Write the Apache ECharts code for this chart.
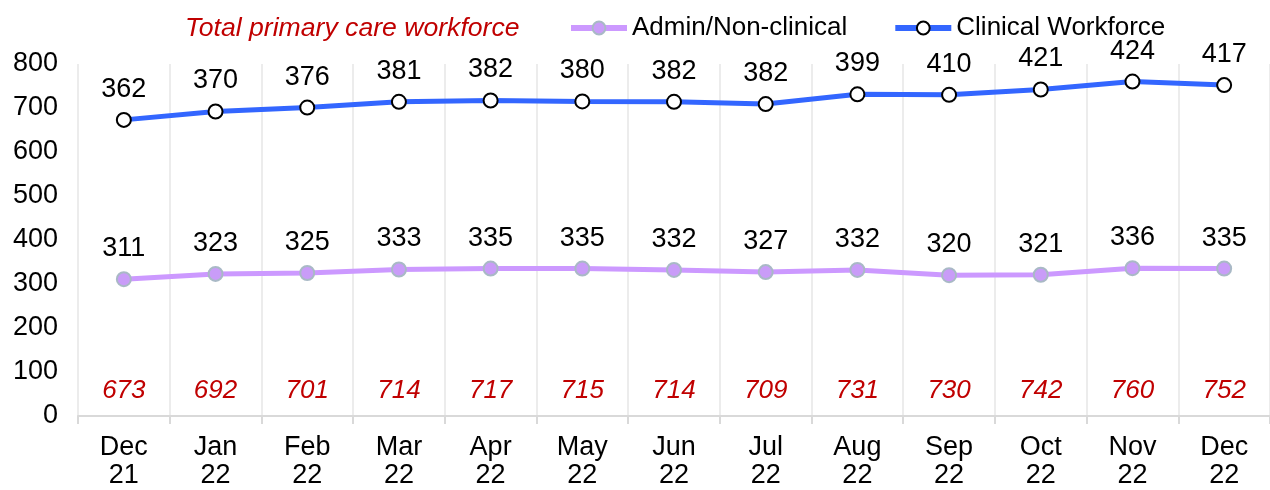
<!DOCTYPE html>
<html>
<head>
<meta charset="utf-8">
<script src="https://cdn.jsdelivr.net/npm/echarts@6/dist/echarts.min.js"></script>
<style>
html,body{margin:0;padding:0;background:#fff;}
#chart{width:1270px;height:490px;}
</style>
</head>
<body>
<div id="chart"></div>
<script>
const categories = ['Dec\n21','Jan\n22','Feb\n22','Mar\n22','Apr\n22','May\n22','Jun\n22','Jul\n22','Aug\n22','Sep\n22','Oct\n22','Nov\n22','Dec\n22'];
const adminValues = [311,323,325,333,335,335,332,327,332,320,321,336,335];
const clinicalValues = [362,370,376,381,382,380,382,382,399,410,421,424,417];
const totalValues = [673,692,701,714,717,715,714,709,731,730,742,760,752];
const yTicks = [0,100,200,300,400,500,600,700,800];

const FONT = '"Liberation Sans", Arial, sans-serif';
const FS = 27;
const chart = echarts.init(document.getElementById('chart'));
chart.setOption({
  animation: false,
  textStyle: { fontFamily: FONT },
  title: {
    text: 'Total primary care workforce',
    left: 180, top: 10,
    textStyle: { color: '#C00000', fontStyle: 'italic', fontWeight: 'normal', fontSize: 26.6, fontFamily: FONT }
  },
  legend: {
    data: ['Admin/Non-clinical', 'Clinical Workforce'],
    left: 563, top: 10,
    itemWidth: 56, itemHeight: 16, itemGap: 45,
    lineStyle: { width: 6 },
    textStyle: { color: '#000', fontSize: 26, fontFamily: FONT }
  },
  grid: { left: 78, right: 0, top: 64, bottom: 72, containLabel: false },
  xAxis: {
    type: 'category',
    data: categories,
    axisLine: { lineStyle: { color: '#D9D9D9', width: 2 } },
    axisTick: { show: true, length: 8, lineStyle: { color: '#D9D9D9', width: 2 } },
    splitLine: { show: true, lineStyle: { color: '#ECECEC', width: 2 } },
    axisLabel: { color: '#000', fontSize: FS, lineHeight: 28, margin: 18, fontFamily: FONT }
  },
  yAxis: {
    type: 'value',
    min: yTicks[0], max: yTicks[yTicks.length - 1], interval: 100,
    axisLine: { show: false },
    axisTick: { show: false },
    splitLine: { show: false },
    axisLabel: { color: '#000', fontSize: FS, margin: 20, fontFamily: FONT }
  },
  series: [
    {
      name: 'Admin/Non-clinical',
      type: 'line',
      data: adminValues,
      symbol: 'circle', symbolSize: 14,
      lineStyle: { color: '#CC99FF', width: 5 },
      itemStyle: { color: '#C99CF8', borderColor: '#A9B9C6', borderWidth: 2 },
      label: { show: true, position: 'top', distance: 9, color: '#000', fontSize: FS, fontFamily: FONT },
      z: 3
    },
    {
      name: 'Clinical Workforce',
      type: 'line',
      data: totalValues,
      symbol: 'circle', symbolSize: 14,
      lineStyle: { color: '#3366FF', width: 5 },
      itemStyle: { color: '#FFFFFF', borderColor: '#000000', borderWidth: 2 },
      label: {
        show: true, position: 'top', distance: 9, color: '#000', fontSize: FS, fontFamily: FONT,
        formatter: p => String(clinicalValues[p.dataIndex])
      },
      z: 4
    },
    {
      name: 'Total',
      type: 'line',
      data: totalValues.map(() => 0),
      symbol: 'circle', symbolSize: 1,
      lineStyle: { width: 0, color: 'rgba(0,0,0,0)' },
      itemStyle: { color: 'rgba(0,0,0,0)', borderWidth: 0 },
      silent: true,
      label: {
        show: true, position: 'top', distance: 12, color: '#C00000', fontStyle: 'italic', fontSize: 26, fontFamily: FONT,
        formatter: p => String(totalValues[p.dataIndex])
      },
      z: 5
    }
  ]
});
</script>
</body>
</html>
